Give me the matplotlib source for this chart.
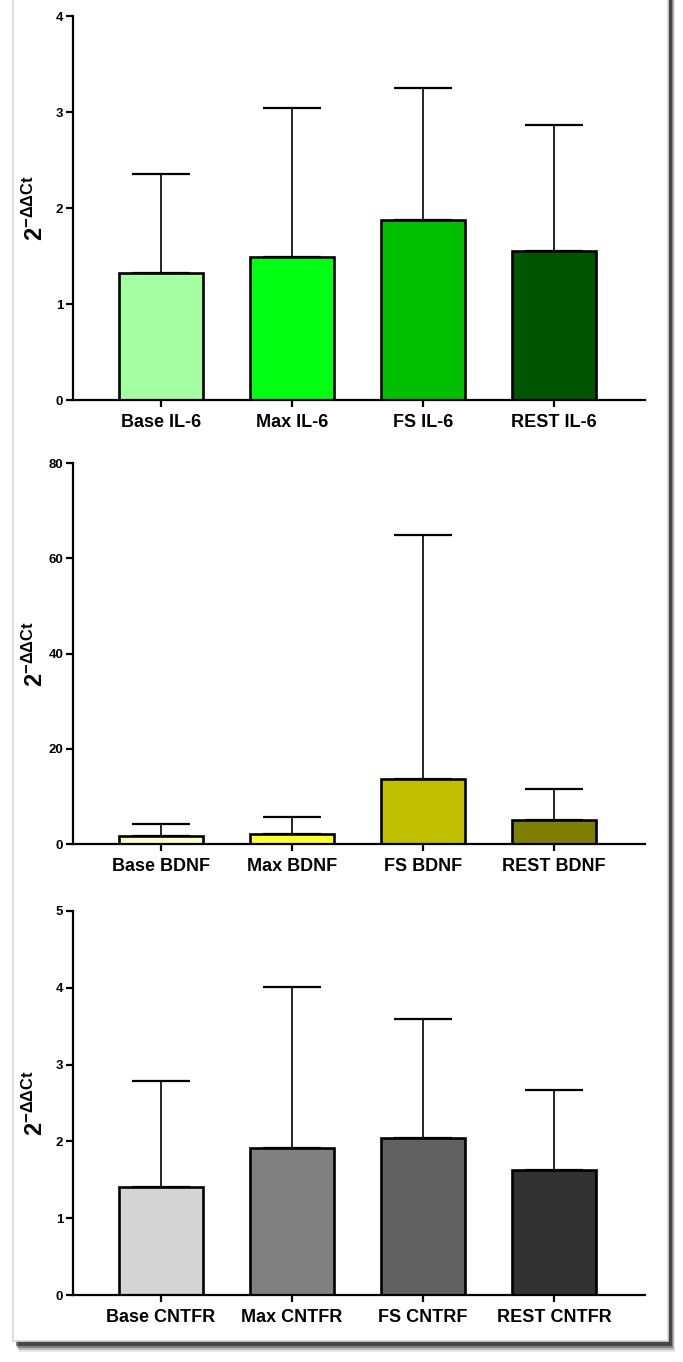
import numpy as np
import matplotlib.pyplot as plt
from matplotlib.patches import Rectangle

plt.rcParams['font.family'] = ['Liberation Sans Narrow', 'Liberation Sans', 'DejaVu Sans']
plt.rcParams['font.weight'] = 'bold'
plt.rcParams['mathtext.fontset'] = 'custom'
plt.rcParams['mathtext.rm'] = 'Liberation Sans:bold'
plt.rcParams['mathtext.bf'] = 'Liberation Sans:bold'
plt.rcParams['mathtext.it'] = 'Liberation Sans:bold'

# data (mean and upper end of the error bar)
il6_labels = ['Base IL-6', 'Max IL-6', 'FS IL-6', 'REST IL-6']
il6_mean = [1.32, 1.49, 1.87, 1.55]
il6_top = [2.35, 3.04, 3.25, 2.86]
il6_colors = ['#a3ffa0', '#00ff10', '#00c000', '#005500']

bdnf_labels = ['Base BDNF', 'Max BDNF', 'FS BDNF', 'REST BDNF']
bdnf_mean = [1.6, 2.1, 13.6, 5.1]
bdnf_top = [4.3, 5.7, 64.9, 11.5]
bdnf_colors = ['#ffffc8', '#ffff30', '#c0c000', '#808000']

cntfr_labels = ['Base CNTFR', 'Max CNTFR', 'FS CNTRF', 'REST CNTFR']
cntfr_mean = [1.40, 1.91, 2.04, 1.63]
cntfr_top = [2.79, 4.01, 3.60, 2.67]
cntfr_colors = ['#d4d4d4', '#808080', '#616161', '#323232']

W, H = 683, 1362
fig = plt.figure(figsize=(W / 100, H / 100), dpi=100)
fig.patch.set_facecolor('white')


def px_rect(x0, y0, x1, y1):
    return (x0 / W, 1 - y1 / H, (x1 - x0) / W, (y1 - y0) / H)


# card with a soft shadow
for i, a in enumerate([0.10, 0.18, 0.30, 0.45]):
    d = 4 - i
    x, y, w, h = px_rect(15 + d, -20, 671 + d, 1344 + 2 * d)
    fig.patches.append(Rectangle((x, y), w, h, transform=fig.transFigure,
                                 facecolor='black', edgecolor='none', alpha=a, zorder=0))
x, y, w, h = px_rect(13, -20, 668, 1341)
fig.patches.append(Rectangle((x, y), w, h, transform=fig.transFigure,
                             facecolor='white', edgecolor='#d8d8d8', lw=1.2, zorder=1))

panels = [
    (il6_labels, il6_mean, il6_top, il6_colors, 4, [0, 1, 2, 3, 4], 16, 400),
    (bdnf_labels, bdnf_mean, bdnf_top, bdnf_colors, 80, [0, 20, 40, 60, 80], 463, 844),
    (cntfr_labels, cntfr_mean, cntfr_top, cntfr_colors, 5, [0, 1, 2, 3, 4, 5], 911, 1295),
]

for labels, mean, top, colors, ymax, yticks, ytop, ybot in panels:
    ax = fig.add_axes(px_rect(73, ytop, 645, ybot))
    ax.set_zorder(2)
    ax.patch.set_alpha(0)
    x = np.arange(len(labels))
    mean = np.array(mean)
    err = np.array(top) - mean
    ax.errorbar(x, mean, yerr=[np.zeros_like(err), err], fmt='none', ecolor='black',
                elinewidth=1.2, capsize=21, capthick=1.6, zorder=1)
    ax.bar(x, mean, width=0.64, color=colors, edgecolor='black', linewidth=1.9, zorder=2)
    ax.set_xlim(-0.672, 3.694)
    ax.set_ylim(0, ymax)
    ax.set_yticks(yticks)
    ax.set_xticks(x)
    ax.set_xticklabels(labels, fontsize=13, fontweight='bold')
    for t in ax.get_yticklabels():
        t.set_fontsize(9.5)
        t.set_fontweight('bold')
    ax.spines['top'].set_visible(False)
    ax.spines['right'].set_visible(False)
    ax.spines['left'].set_linewidth(1.6)
    ax.spines['bottom'].set_linewidth(1.6)
    ax.tick_params(axis='both', direction='out', width=1.6, length=5, pad=2)
    ax.tick_params(axis='x', pad=5)
    ax.set_ylabel(r'$\mathbf{2^{-\Delta\Delta Ct}}$', fontsize=17)
    ax.yaxis.set_label_coords(-0.044, 0.5)

fig.savefig('out.png', dpi=100)
